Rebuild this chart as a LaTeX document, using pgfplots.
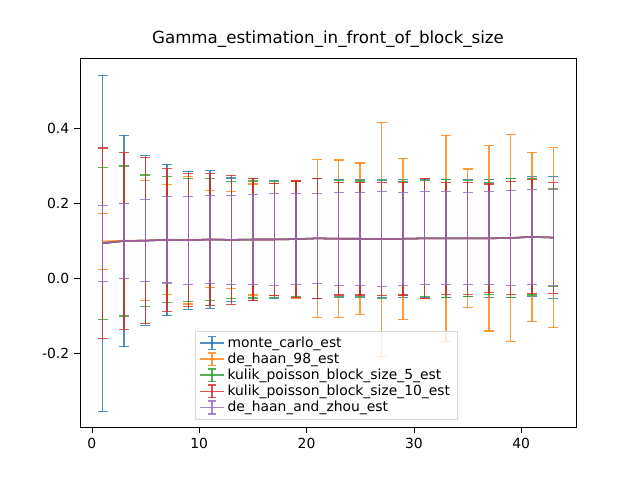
\documentclass[border=0pt]{standalone}
\usepackage{pgfplots}
\pgfplotsset{compat=1.18}
\usepackage{pgfplotstable}
\usepackage{fontspec}
\setmainfont{DejaVu Sans}
\definecolor{c0}{HTML}{1F77B4}
\definecolor{c1}{HTML}{FF7F0E}
\definecolor{c2}{HTML}{2CA02C}
\definecolor{c3}{HTML}{D62728}
\definecolor{c4}{HTML}{9467BD}
\pgfplotstableread{
x y e
1 0.093 0.448
3 0.099 0.282
5 0.100 0.226
7 0.102 0.202
9 0.101 0.184
11 0.103 0.183
13 0.102 0.165
15 0.103 0.163
17 0.103 0.158
19 0.104 0.156
21 0.106 0.160
23 0.105 0.157
25 0.105 0.157
27 0.104 0.156
29 0.105 0.157
31 0.106 0.158
33 0.106 0.158
35 0.106 0.156
37 0.106 0.157
39 0.107 0.158
41 0.110 0.160
43 0.108 0.162
}\mc
\pgfplotstableread{
x y e
1 0.098 0.075
3 0.100 0.100
5 0.100 0.160
7 0.103 0.147
9 0.101 0.170
11 0.104 0.130
13 0.102 0.130
15 0.103 0.148
17 0.103 0.150
19 0.104 0.157
21 0.106 0.210
23 0.105 0.210
25 0.105 0.202
27 0.104 0.312
29 0.105 0.215
31 0.106 0.160
33 0.106 0.275
35 0.106 0.185
37 0.106 0.247
39 0.107 0.275
41 0.110 0.226
43 0.108 0.240
}\dh
\pgfplotstableread{
x y e
1 0.093 0.203
3 0.099 0.200
5 0.100 0.175
7 0.102 0.168
9 0.101 0.164
11 0.103 0.163
13 0.102 0.156
15 0.103 0.156
17 0.103 0.155
19 0.104 0.154
21 0.106 0.160
23 0.105 0.155
25 0.105 0.154
27 0.104 0.158
29 0.105 0.152
31 0.106 0.155
33 0.106 0.158
35 0.106 0.155
37 0.106 0.150
39 0.107 0.158
41 0.110 0.155
43 0.108 0.130
}\kf
\pgfplotstableread{
x y e
1 0.093 0.254
3 0.099 0.235
5 0.100 0.222
7 0.102 0.190
9 0.101 0.177
11 0.103 0.175
13 0.102 0.172
15 0.103 0.163
17 0.103 0.150
19 0.104 0.155
21 0.106 0.160
23 0.105 0.150
25 0.105 0.150
27 0.104 0.150
29 0.105 0.150
31 0.106 0.160
33 0.106 0.150
35 0.106 0.150
37 0.106 0.145
39 0.107 0.150
41 0.110 0.152
43 0.108 0.148
}\kt
\pgfplotstableread{
x y e
1 0.093 0.101
3 0.099 0.099
5 0.100 0.110
7 0.102 0.115
9 0.101 0.117
11 0.103 0.117
13 0.102 0.118
15 0.103 0.120
17 0.103 0.122
19 0.104 0.122
21 0.106 0.120
23 0.105 0.124
25 0.105 0.124
27 0.104 0.126
29 0.105 0.124
31 0.106 0.124
33 0.106 0.124
35 0.106 0.123
37 0.106 0.124
39 0.107 0.126
41 0.110 0.126
43 0.108 0.128
}\hz
\begin{document}
\begin{tikzpicture}[x=1pt,y=1pt]
\path (0,0) rectangle (460.8,345.6);
\begin{axis}[
  at={(57.6pt,38.16pt)}, anchor=south west,
  scale only axis, width=357.12pt, height=265.68pt,
  xmin=-1.1, xmax=45.1, ymin=-0.397, ymax=0.587,
  xtick={0,10,20,30,40}, ytick={-0.2,0,0.2,0.4},
  yticklabel style={/pgf/number format/.cd,fixed,fixed zerofill,precision=1},
  /pgf/number format/assume math mode=true,
  tick align=outside, tick style={black,thin},
  xtick pos=bottom, ytick pos=left,
  title={Gamma\_estimation\_in\_front\_of\_block\_size},
  title style={font=\fontsize{12}{14}\selectfont, yshift=-2pt},
  ticklabel style={font=\fontsize{10}{12}\selectfont},
  legend style={at={(0.232,0.02)}, anchor=south west, draw=white!85!black,
    font=\fontsize{10}{12}\selectfont, fill=white, fill opacity=0.8, text opacity=1,
    row sep=-1.5pt},
  legend cell align=left,
  legend image code/.code={
    \draw[#1] (0cm,0cm)--(0.6cm,0cm);
    \draw[#1] (0.3cm,-0.16cm)--(0.3cm,0.16cm);
    \draw[#1] (0.2cm,0.16cm)--(0.4cm,0.16cm);
    \draw[#1] (0.2cm,-0.16cm)--(0.4cm,-0.16cm);
  },
  every axis plot/.append style={line width=1.1pt, opacity=0.8, mark=none,
    error bars/y dir=both, error bars/y explicit,
    error bars/error bar style={line width=1.1pt},
    error bars/error mark options={rotate=90, mark size=3.6pt, line width=0.8pt}},
]
\addplot[c0] table[x=x,y=y,y error=e]{\mc};
\addlegendentry{monte\_carlo\_est}
\addplot[c1] table[x=x,y=y,y error=e]{\dh};
\addlegendentry{de\_haan\_98\_est}
\addplot[c2] table[x=x,y=y,y error=e]{\kf};
\addlegendentry{kulik\_poisson\_block\_size\_5\_est}
\addplot[c3] table[x=x,y=y,y error=e]{\kt};
\addlegendentry{kulik\_poisson\_block\_size\_10\_est}
\addplot[c4] table[x=x,y=y,y error=e]{\hz};
\addlegendentry{de\_haan\_and\_zhou\_est}
\end{axis}
\end{tikzpicture}
\end{document}
